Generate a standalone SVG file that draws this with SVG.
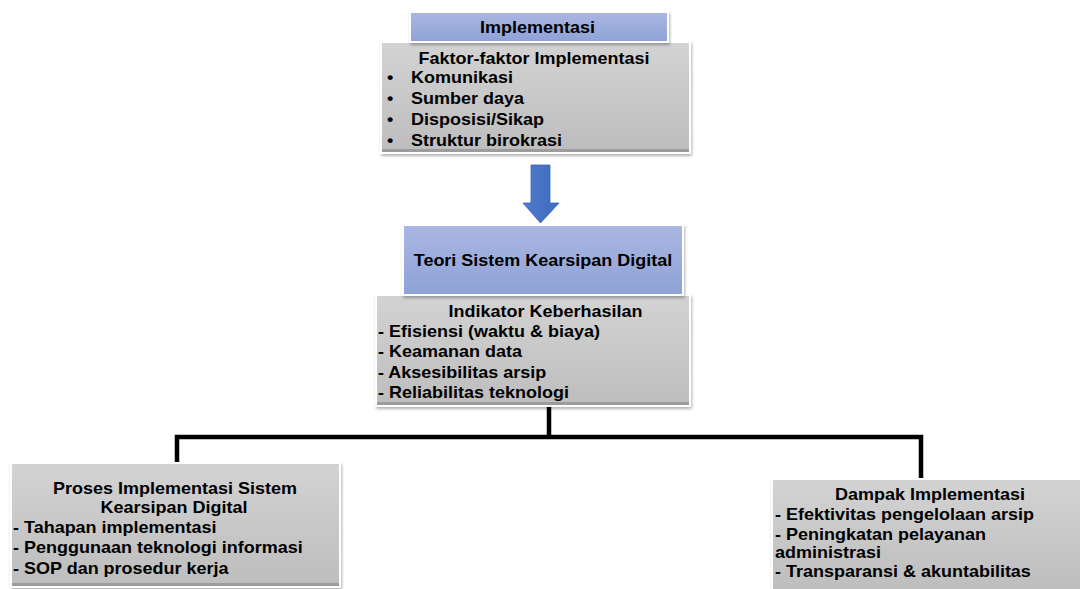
<svg xmlns="http://www.w3.org/2000/svg" width="1080" height="589" viewBox="0 0 1080 589">
  <defs>
    <linearGradient id="blueFill" x1="0" y1="0" x2="0" y2="1">
      <stop offset="0" stop-color="#aab7e2"/>
      <stop offset="1" stop-color="#8ea2d6"/>
    </linearGradient>
    <linearGradient id="grayFill" x1="0" y1="0" x2="0" y2="1">
      <stop offset="0" stop-color="#d3d3d3"/>
      <stop offset="1" stop-color="#bdbdbd"/>
    </linearGradient>
    <linearGradient id="arrowFill" x1="0" y1="0" x2="1" y2="0">
      <stop offset="0" stop-color="#4f7ccc"/>
      <stop offset="1" stop-color="#3e6ac0"/>
    </linearGradient>
    <filter id="shadow" x="-10%" y="-10%" width="120%" height="130%">
      <feGaussianBlur in="SourceAlpha" stdDeviation="1.5"/>
      <feOffset dx="1" dy="2"/>
      <feComponentTransfer><feFuncA type="linear" slope="0.3"/></feComponentTransfer>
      <feMerge><feMergeNode/><feMergeNode in="SourceGraphic"/></feMerge>
    </filter>
  </defs>
  <style>
    .blue { fill: url(#blueFill); stroke: #ffffff; stroke-width: 2; filter: url(#shadow); }
    .gray { fill: url(#grayFill); stroke: #ffffff; stroke-width: 2; filter: url(#shadow); }
    .base { fill: #9c9c9c; }
    text { font-family: "Liberation Sans", Arial, sans-serif; font-weight: bold; font-size: 16px; fill: #000000; }
    .mid { text-anchor: middle; }
    .link { fill: none; stroke: #000000; stroke-width: 4.5; stroke-linejoin: miter; stroke-linecap: butt; }
  </style>

  <rect width="1080" height="589" fill="#ffffff"/>

  <!-- connectors -->
  <g id="connectors">
    <path class="link" d="M549 406 V437"/>
    <path class="link" d="M177 463 V437 H921 V479"/>
    <path d="M531 165 H550 V203 H559 L540.5 223 L523 203 H531 Z" fill="url(#arrowFill)" stroke="#3a63b3" stroke-width="0.8"/>
  </g>

  <!-- factor box -->
  <g id="faktor">
    <rect class="gray" x="381" y="42" width="309" height="111"/>
    <rect class="base" x="382" y="149" width="307" height="3"/>
    <text class="mid" transform="matrix(1.125 0 0 1 534 64)">Faktor-faktor Implementasi</text>
    <text transform="matrix(1.125 0 0 1 387 83)">•</text>
    <text transform="matrix(1.125 0 0 1 387 104)">•</text>
    <text transform="matrix(1.125 0 0 1 387 125)">•</text>
    <text transform="matrix(1.125 0 0 1 387 146)">•</text>
    <text transform="matrix(1.125 0 0 1 411 83)">Komunikasi</text>
    <text transform="matrix(1.125 0 0 1 411 104)">Sumber daya</text>
    <text transform="matrix(1.125 0 0 1 411 125)">Disposisi/Sikap</text>
    <text transform="matrix(1.125 0 0 1 411 146)">Struktur birokrasi</text>
  </g>

  <!-- implementation header -->
  <g id="implementasi">
    <rect class="blue" x="410" y="12" width="258" height="30"/>
    <text class="mid" transform="matrix(1.125 0 0 1 537.5 33)">Implementasi</text>
  </g>

  <!-- success indicators -->
  <g id="indikator">
    <rect class="gray" x="376" y="295" width="314" height="111"/>
    <rect class="base" x="377" y="402" width="312" height="3"/>
    <text class="mid" transform="matrix(1.125 0 0 1 545.5 317)">Indikator Keberhasilan</text>
    <text transform="matrix(1.125 0 0 1 378 337)">- Efisiensi (waktu &amp; biaya)</text>
    <text transform="matrix(1.125 0 0 1 378 357)">- Keamanan data</text>
    <text transform="matrix(1.125 0 0 1 378 378)">- Aksesibilitas arsip</text>
    <text transform="matrix(1.125 0 0 1 378 398)">- Reliabilitas teknologi</text>
  </g>

  <!-- theory header -->
  <g id="teori">
    <rect class="blue" x="403" y="225" width="280" height="70"/>
    <text class="mid" transform="matrix(1.125 0 0 1 543 266)">Teori Sistem Kearsipan Digital</text>
  </g>

  <!-- implementation process -->
  <g id="proses">
    <rect class="gray" x="11" y="463" width="329" height="124"/>
    <rect class="base" x="12" y="583" width="327" height="3"/>
    <text class="mid" transform="matrix(1.125 0 0 1 175 494)">Proses Implementasi Sistem</text>
    <text class="mid" transform="matrix(1.125 0 0 1 174 513)">Kearsipan Digital</text>
    <text transform="matrix(1.125 0 0 1 13 533)">- Tahapan implementasi</text>
    <text transform="matrix(1.125 0 0 1 13 553)">- Penggunaan teknologi informasi</text>
    <text transform="matrix(1.125 0 0 1 13 574)">- SOP dan prosedur kerja</text>
  </g>

  <!-- implementation impact -->
  <g id="dampak">
    <rect class="gray" x="772" y="479" width="312" height="114"/>
    <text class="mid" transform="matrix(1.125 0 0 1 930 500)">Dampak Implementasi</text>
    <text transform="matrix(1.125 0 0 1 775 520)">- Efektivitas pengelolaan arsip</text>
    <text transform="matrix(1.125 0 0 1 775 540)">- Peningkatan pelayanan</text>
    <text transform="matrix(1.125 0 0 1 775 558)">administrasi</text>
    <text transform="matrix(1.125 0 0 1 775 577)">- Transparansi &amp; akuntabilitas</text>
  </g>
</svg>
